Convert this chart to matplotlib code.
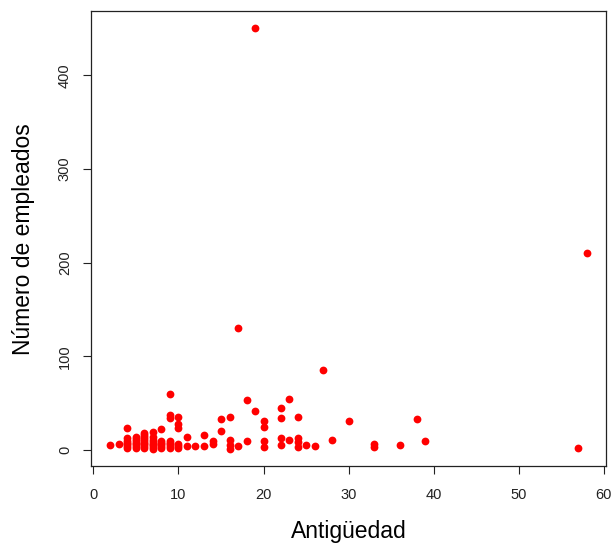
import matplotlib
matplotlib.use("Agg")
import matplotlib.pyplot as plt
import numpy as np

# Antigüedad (años) y número de empleados
antiguedad = [
    2, 3,
    4, 4, 4, 4, 4, 4, 4,
    5, 5, 5, 5, 5, 5, 5,
    6, 6, 6, 6, 6, 6, 6, 6, 6,
    7, 7, 7, 7, 7, 7, 7, 7,
    8, 8, 8, 8, 8, 8,
    9, 9, 9, 9, 9, 9, 9, 9,
    10, 10, 10, 10, 10, 10,
    11, 11, 12, 13, 13, 14, 14,
    15, 15, 16, 16, 16, 16, 17, 17, 18, 18,
    19, 19, 20, 20, 20, 20,
    22, 22, 22, 22, 23, 23, 24, 24, 24, 24,
    25, 26, 27, 28, 30, 33, 33, 36, 38, 39, 57, 58,
]
empleados = [
    5, 7,
    2, 4, 6, 8, 10, 13, 24,
    2, 4, 6, 8, 10, 12, 14,
    2, 4, 6, 8, 10, 12, 14, 16, 18,
    1, 3, 5, 7, 9, 11, 14, 19,
    2, 4, 6, 8, 10, 22,
    2, 4, 6, 8, 10, 34, 37, 60,
    2, 4, 7, 24, 28, 35,
    4, 14, 4, 4, 16, 7, 10,
    20, 33, 1, 5, 11, 35, 4, 130, 10, 53,
    42, 450, 3, 10, 25, 31,
    5, 13, 34, 45, 11, 54, 3, 9, 13, 35,
    5, 4, 85, 11, 31, 3, 6, 5, 33, 10, 2, 210,
]

plt.rcParams["font.family"] = ["Liberation Sans", "DejaVu Sans"]

fig = plt.figure(figsize=(6.12, 5.46), dpi=100)
ax = fig.add_axes([0.1493, 0.1465, 0.8407, 0.8325])

ax.plot(antiguedad, empleados, "o", color="#ff0000", markersize=5.6,
        markeredgewidth=0)

ax.set_xlim(-0.24, 60.24)
ax.set_ylim(-17, 468)
ax.set_xticks(np.arange(0, 61, 10))
ax.set_yticks(np.arange(0, 401, 100))
ax.tick_params(direction="out", length=6, width=0.8, colors="#222222",
               labelsize=10.5)
ax.tick_params(axis="x", pad=10)
ax.tick_params(axis="y", pad=8)
for lab in ax.get_yticklabels():
    lab.set_rotation(90)
    lab.set_va("center")
for spine in ax.spines.values():
    spine.set_linewidth(0.9)
    spine.set_color("#222222")

ax.set_xlabel("Antigüedad", fontsize=16.5, va="center")
ax.set_ylabel("Número de empleados", fontsize=16.5, va="center")
ax.xaxis.set_label_coords(0.5, -0.145)
ax.yaxis.set_label_coords(-0.131, 0.5)

fig.savefig("out.png", dpi=100)
